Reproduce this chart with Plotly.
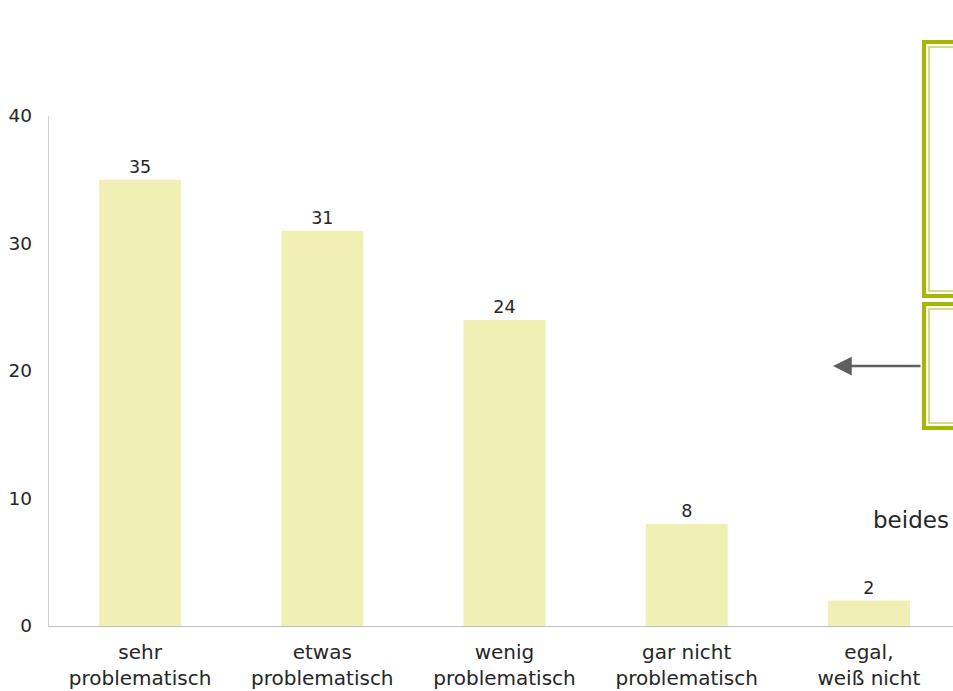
import plotly.graph_objects as go

# Survey answers and their shares (percent)
categories = ["sehr<br>problematisch", "etwas<br>problematisch", "wenig<br>problematisch",
              "gar nicht<br>problematisch", "egal,<br>weiß nicht"]
values = [35, 31, 24, 8, 2]
y_ticks = [0, 10, 20, 30, 40]
side_label = "beides"

W, H = 953, 691
L, R, T, B = 49, 0, 116, 65
plot_w = W - L - R
plot_h = H - T - B

def px_x(p):
    return (p - L) / plot_w

def px_y(p):
    return (H - B - p) / plot_h

FONT = "DejaVu Sans"
TXT = "#262626"
OLIVE = "#A9B500"
OLIVE_LIGHT = "#C9D061"

fig = go.Figure(go.Bar(
    x=categories,
    y=values,
    marker=dict(color="#F0F0B4", line=dict(width=0)),
    text=[str(v) for v in values],
    textposition="outside",
    textfont=dict(family=FONT, size=17.5, color=TXT),
    cliponaxis=False,
    hoverinfo="skip",
))

shapes = []
# Double-bordered frames on the right edge
for top, bottom in [(40, 298), (302, 430)]:
    shapes.append(dict(type="rect", xref="paper", yref="paper",
                       x0=px_x(924), x1=px_x(1000), y0=px_y(bottom - 2), y1=px_y(top + 2),
                       line=dict(color=OLIVE, width=4), fillcolor="rgba(0,0,0,0)"))
    shapes.append(dict(type="rect", xref="paper", yref="paper",
                       x0=px_x(929), x1=px_x(1000), y0=px_y(bottom - 7), y1=px_y(top + 7),
                       line=dict(color=OLIVE_LIGHT, width=1.5), fillcolor="rgba(0,0,0,0)"))

annotations = [
    dict(xref="paper", yref="paper", x=px_x(833), y=px_y(366),
         ax=89, ay=0, axref="pixel", ayref="pixel",
         showarrow=True, arrowhead=2, arrowsize=1.5, arrowwidth=2.5,
         arrowcolor="#5F5F5F", text=""),
    dict(xref="paper", yref="paper", x=px_x(871), y=px_y(520),
         xanchor="left", yanchor="middle", showarrow=False,
         text=side_label, font=dict(family=FONT, size=23, color=TXT)),
]

fig.update_layout(
    width=W, height=H,
    margin=dict(l=L, r=R, t=T, b=B, autoexpand=False),
    paper_bgcolor="white", plot_bgcolor="white",
    bargap=0.55,
    showlegend=False,
    shapes=shapes,
    annotations=annotations,
    xaxis=dict(
        range=[-0.5, 4.5 - 7 / 182],
        showline=True, linecolor="#BFBFBF", linewidth=1.3,
        showgrid=False, ticks="", zeroline=False,
        tickfont=dict(family=FONT, size=20, color=TXT),
        ticklabelstandoff=8,
    ),
    yaxis=dict(
        range=[0, 40],
        tickvals=y_ticks,
        showline=True, linecolor="#D0D0D0", linewidth=1.3,
        showgrid=False, ticks="", zeroline=False,
        tickfont=dict(family=FONT, size=18.5, color=TXT),
        ticklabelstandoff=12,
    ),
)

fig.write_html("out.html")
